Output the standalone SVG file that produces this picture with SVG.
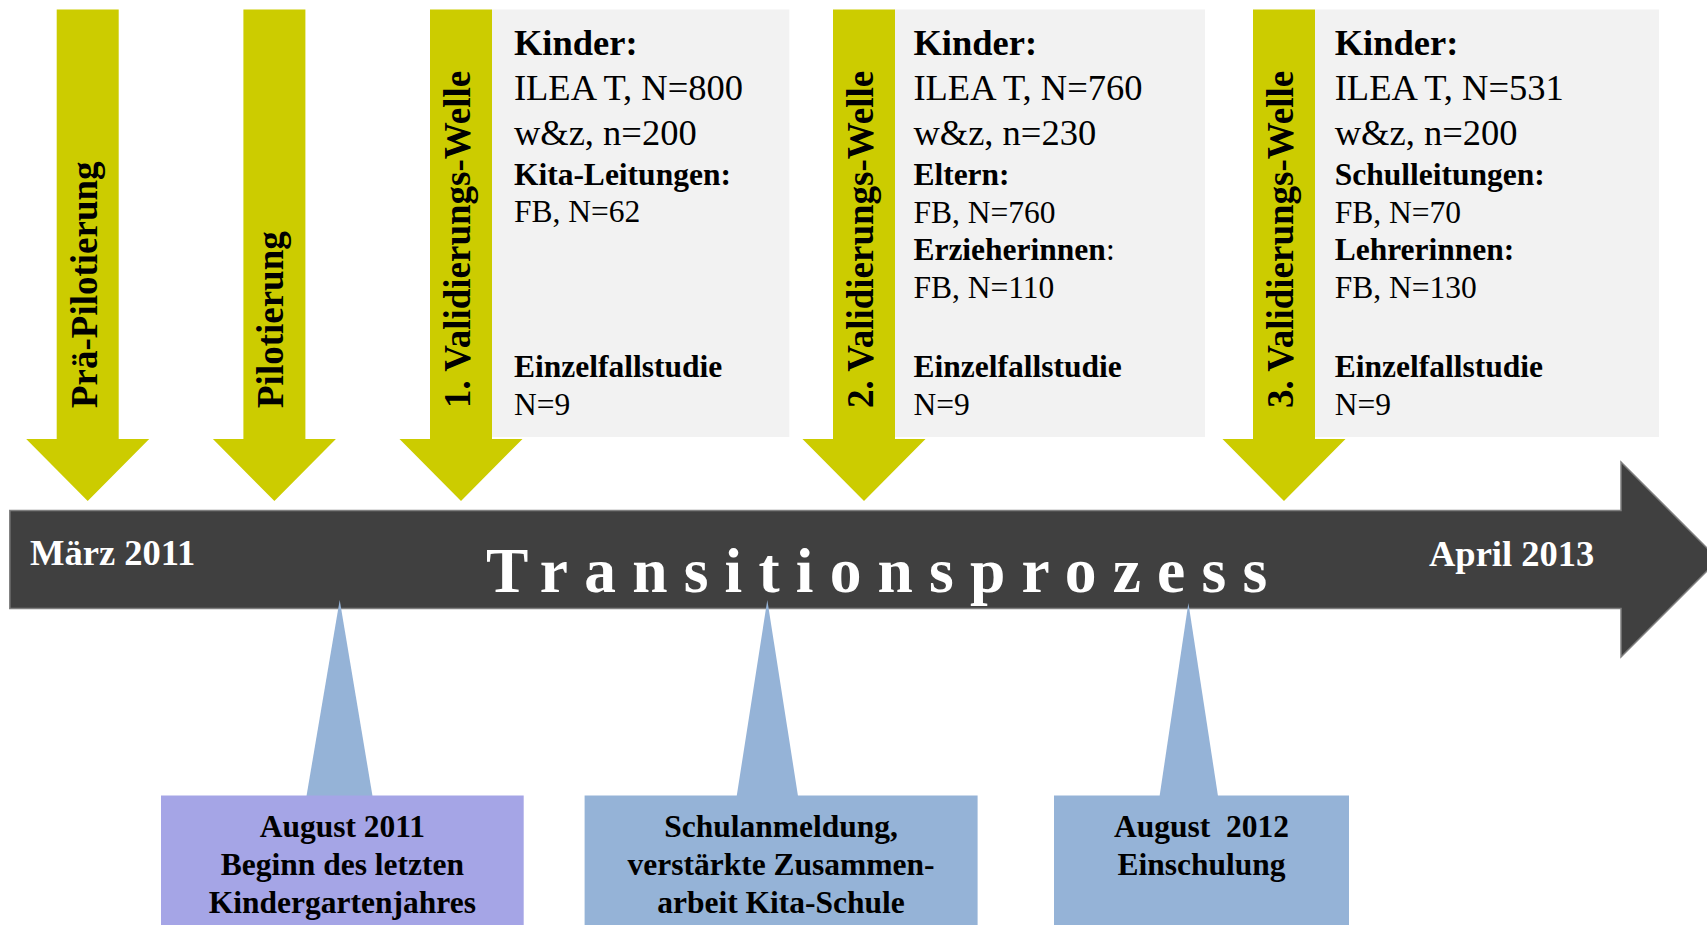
<svg xmlns="http://www.w3.org/2000/svg" width="1707" height="925" viewBox="0 0 1707 925">
<style>
  text { font-family: "Liberation Serif", "Times New Roman", serif; }
  .vt { font-size: 37px; font-weight: bold; fill: #000; }
  .big { font-size: 36.5px; fill: #000; }
  .sm { font-size: 31.5px; fill: #000; }
  .b { font-weight: bold; }
  .cl { font-size: 31.5px; font-weight: bold; fill: #000; text-anchor: middle; }
  .wt { font-size: 36.5px; font-weight: bold; fill: #fff; }
  .box { fill: #f2f2f2; }
  .ya { fill: #cccc00; }
  .ptr { fill: #95b3d7; }
</style>
<defs>
  <path id="yarrow" d="M-31,9.5 H31 V439 H61.5 L0,501 L-61.5,439 H-31 Z"/>
</defs>
<rect width="1707" height="925" fill="#fff"/>

<g id="timeline">
  <path d="M9.8,510.5 H1621 V462 L1718.5,559.5 L1621,657 V608.5 H9.8 Z" fill="#404040" stroke="#7f7f7f" stroke-width="1.5"/>
  <text class="wt" x="30" y="565">März 2011</text>
  <text class="wt" x="1429" y="566">April 2013</text>
  <text x="486" y="591.5" font-size="63.5" font-weight="bold" fill="#fff" letter-spacing="16.2">Transitionsprozess</text>
</g>

<g id="connectors">
  <polygon class="ptr" points="339.7,600 306.5,796 372.5,796"/>
  <polygon class="ptr" points="767.3,600 736.7,796 798,796"/>
  <polygon class="ptr" points="1188.4,603 1159.6,796 1218,796"/>
</g>

<g id="prae-pilotierung">
  <use href="#yarrow" class="ya" transform="translate(87.7,0)"/>
  <text class="vt" transform="translate(96.7,408) rotate(-90)">Prä-Pilotierung</text>
</g>

<g id="pilotierung">
  <use href="#yarrow" class="ya" transform="translate(274.4,0)"/>
  <text class="vt" transform="translate(283.4,408) rotate(-90)">Pilotierung</text>
</g>

<g id="welle1">
  <rect class="box" x="492" y="9.5" width="297.3" height="427.5"/>
  <use href="#yarrow" class="ya" transform="translate(461,0)"/>
  <text class="vt" transform="translate(470,408) rotate(-90)">1. Validierungs-Welle</text>
  <text class="big b" x="513.9" y="54.5">Kinder:</text>
  <text class="big" x="513.9" y="100">ILEA T, N=800</text>
  <text class="big" x="513.9" y="145">w&amp;z, n=200</text>
  <text class="sm b" x="513.9" y="184.5">Kita-Leitungen:</text>
  <text class="sm" x="513.9" y="222">FB, N=62</text>
  <text class="sm b" x="513.9" y="376.7">Einzelfallstudie</text>
  <text class="sm" x="513.9" y="414.5">N=9</text>
</g>

<g id="welle2">
  <rect class="box" x="894" y="9.5" width="311" height="427.5"/>
  <use href="#yarrow" class="ya" transform="translate(864,0)"/>
  <text class="vt" transform="translate(873,408) rotate(-90)">2. Validierungs-Welle</text>
  <text class="big b" x="913.4" y="54.5">Kinder:</text>
  <text class="big" x="913.4" y="100">ILEA T, N=760</text>
  <text class="big" x="913.4" y="145">w&amp;z, n=230</text>
  <text class="sm b" x="913.4" y="184.5">Eltern:</text>
  <text class="sm" x="913.4" y="222.5">FB, N=760</text>
  <text class="sm" x="913.4" y="260"><tspan class="b">Erzieherinnen</tspan>:</text>
  <text class="sm" x="913.4" y="298">FB, N=110</text>
  <text class="sm b" x="913.4" y="376.7">Einzelfallstudie</text>
  <text class="sm" x="913.4" y="414.5">N=9</text>
</g>

<g id="welle3">
  <rect class="box" x="1315" y="9.5" width="344" height="427.5"/>
  <use href="#yarrow" class="ya" transform="translate(1284,0)"/>
  <text class="vt" transform="translate(1293,408) rotate(-90)">3. Validierungs-Welle</text>
  <text class="big b" x="1334.7" y="54.5">Kinder:</text>
  <text class="big" x="1334.7" y="100">ILEA T, N=531</text>
  <text class="big" x="1334.7" y="145">w&amp;z, n=200</text>
  <text class="sm b" x="1334.7" y="184.5">Schulleitungen:</text>
  <text class="sm" x="1334.7" y="222.5">FB, N=70</text>
  <text class="sm b" x="1334.7" y="260">Lehrerinnen:</text>
  <text class="sm" x="1334.7" y="298">FB, N=130</text>
  <text class="sm b" x="1334.7" y="376.7">Einzelfallstudie</text>
  <text class="sm" x="1334.7" y="414.5">N=9</text>
</g>

<g id="august2011">
  <rect x="161" y="795.5" width="362.7" height="130" fill="#a5a5e6"/>
  <text class="cl" x="342.4" y="837">August 2011</text>
  <text class="cl" x="342.4" y="875">Beginn des letzten</text>
  <text class="cl" x="342.4" y="913">Kindergartenjahres</text>
</g>

<g id="schulanmeldung">
  <rect x="584.6" y="795.5" width="393" height="130" fill="#95b3d7"/>
  <text class="cl" x="781" y="837">Schulanmeldung,</text>
  <text class="cl" x="781" y="875">verstärkte Zusammen-</text>
  <text class="cl" x="781" y="913">arbeit Kita-Schule</text>
</g>

<g id="einschulung">
  <rect x="1054" y="795.5" width="295" height="130" fill="#95b3d7"/>
  <text class="cl" x="1201.5" y="837" xml:space="preserve">August  2012</text>
  <text class="cl" x="1201.5" y="875">Einschulung</text>
</g>
</svg>
